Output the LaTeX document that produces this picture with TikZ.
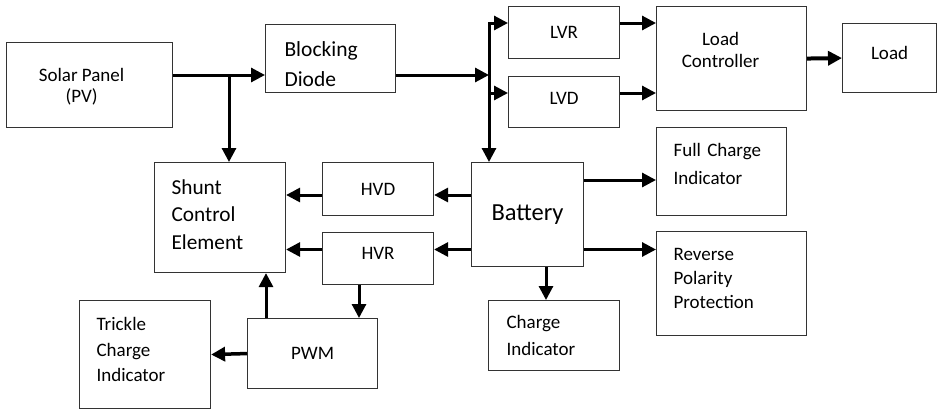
\documentclass[tikz,border=0pt]{standalone}
\usepackage{fontspec}
\setmainfont{Carlito}
\usetikzlibrary{arrows.meta,positioning,calc}

\begin{document}
\begin{tikzpicture}[x=1pt,y=-1pt,
  blk/.style={draw=black!80, line width=1.1pt, anchor=north west, inner sep=0pt},
  sz/.style 2 args={minimum width=#1pt, minimum height=#2pt},
  lft/.style={align=left, text width=#1pt},
  txt/.style={font=\fontsize{19}{#1}\selectfont},
  arr/.style={line width=3pt, -{Triangle[length=14pt,width=14pt]}},
]
\useasboundingbox (0,0) rectangle (937,410);
% Blocks
\node[blk, sz={166}{85}, txt=21, align=center, text depth=0pt] (solar) at (6,42) {Solar Panel\hspace*{16pt}\\(PV)\hspace*{16pt}};
\node[blk, sz={130}{68}, lft=92, font=\fontsize{21.5}{30}\selectfont, text depth=20pt] (diode) at (265,24) {Blocking\\Diode};
\node[blk, sz={111}{52}, txt=22] (lvr) at (508,6) {LVR};
\node[blk, sz={111}{51}, txt=22, text depth=8pt] (lvd) at (508,76) {LVD};
\node[blk, sz={150}{104}, txt=22, align=center, text depth=18pt] (lc) at (656,6) {Load\hspace*{22pt}\\Controller\hspace*{22pt}};
\node[blk, sz={94}{69}, txt=22, text depth=10pt] (load) at (842,23) {Load};
\node[blk, sz={130}{88}, txt=28, lft=96, text depth=44pt] (fci) at (656,127) {Full Charge\\Indicator};
\node[blk, sz={112}{104}, font=\fontsize{24.5}{28}\selectfont] (bat) at (471,162) {Battery};
\node[blk, sz={150}{104}, txt=24, lft=116, text depth=58pt] (rpp) at (656,231) {Reverse\\Polarity\\Protection};
\node[blk, sz={131}{70}, txt=27, lft=95] (ci) at (488,300) {Charge\\Indicator};
\node[blk, sz={131}{110}, lft=97, font=\fontsize{21.3}{27.5}\selectfont, text depth=61pt] (shunt) at (154,162) {Shunt\\Control\\Element};
\node[blk, sz={111}{53}, txt=22] (hvd) at (322,162) {HVD};
\node[blk, sz={111}{52}, txt=22, text depth=10pt] (hvr) at (322,232) {HVR};
\node[blk, sz={130}{70}, txt=22] (pwm) at (247,318) {PWM};
\node[blk, sz={131}{108}, txt=25.5, lft=97, text depth=61pt] (tci) at (79,300) {Trickle\\Charge\\Indicator};
% Rows and columns of the connectors
\coordinate (pv) at (229,75);
\coordinate (bustop) at (489,22);
\coordinate (bus) at (489,75);
\coordinate (ylvr) at (0,23);
\coordinate (ylvd) at (0,93);
\coordinate (yhvd) at (0,195);
\coordinate (yhvr) at (0,249.5);
\coordinate (yfci) at (0,180);
\coordinate (xci) at (546,0);
\coordinate (xpwm) at (359,0);
\coordinate (xsh) at (266,0);
% PV side
\draw[arr] (solar.east |- pv) -- (diode.west |- pv);
\draw[arr] (pv) -- (pv |- shunt.north);
\draw[arr] (diode.east |- bus) -- (bus);
\draw[arr] (bustop) -- (bustop |- bat.north);
% Load side
\foreach \b/\y in {lvr/ylvr,lvd/ylvd} {
  \draw[arr] (bus |- \y) -- (\b.west |- \y);
  \draw[arr] (\b.east |- \y) -- (lc.west |- \y);
}
\draw[arr, line width=4pt] (lc.east) -- (load.west);
% Battery outputs
\draw[arr] (bat.east |- yfci) -- (fci.west |- yfci);
\draw[arr] (bat.east |- yhvr) -- (rpp.west |- yhvr);
\draw[arr] (bat.south -| xci) -- (ci.north -| xci);
\foreach \b/\y in {hvd/yhvd,hvr/yhvr} {
  \draw[arr] (bat.west |- \y) -- (\b.east |- \y);
  \draw[arr] (\b.west |- \y) -- (shunt.east |- \y);
}
% PWM loop
\draw[arr] (hvr.south -| xpwm) -- (pwm.north -| xpwm);
\draw[arr] (pwm.north -| xsh) -- (shunt.south -| xsh);
\draw[arr, line width=3.5pt] (pwm.west) -- (tci.east);
\end{tikzpicture}
\end{document}
